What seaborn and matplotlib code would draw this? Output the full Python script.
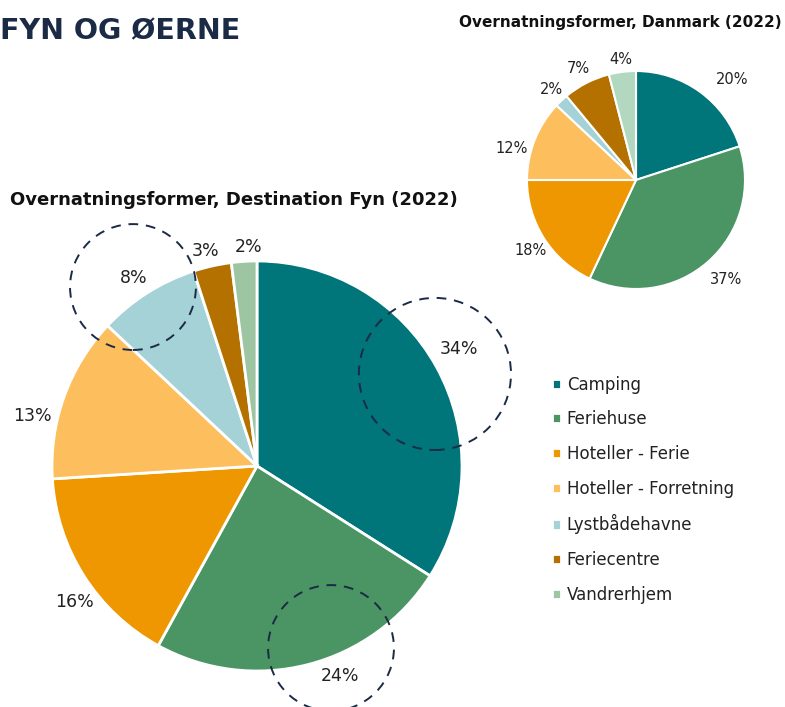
import matplotlib
matplotlib.use("Agg")
import matplotlib.pyplot as plt
from matplotlib.patches import Circle
import numpy as np
import seaborn as sns

sns.set_theme(style="white")
plt.rcParams['font.family'] = ['DejaVu Sans']

categories = ["Camping", "Feriehuse", "Hoteller - Ferie", "Hoteller - Forretning",
              "Lystbådehavne", "Feriecentre", "Vandrerhjem"]
fyn_values = [34, 24, 16, 13, 8, 3, 2]
dk_values = [20, 37, 18, 12, 2, 7, 4]
colors = sns.color_palette(["#00757a", "#4a9563", "#ef9700", "#fdbf5e",
                            "#a5d2d7", "#b47100", "#9ec5a2"])
dk_colors = sns.color_palette(["#00757a", "#4a9563", "#ef9700", "#fdbf5e",
                               "#a5d2d7", "#b47100", "#b2d9bf"])

# label placement (layout only): angular shift in degrees (clockwise) and radial distance
fyn_label_shift = [-1.2, -7.3, -4.2, -7.2, -0.9, -0.9, 1.3]
fyn_label_dist = [1.14, 1.10, 1.11, 1.12, 1.10, 1.08, 1.07]
dk_label_shift = [7.8, -0.9, -1.3, -7.2, 0.2, -0.6, 0.1]
dk_label_dist = [1.28, 1.23, 1.16, 1.18, 1.14, 1.15, 1.11]

W, H = 785, 707
fig = plt.figure(figsize=(W / 100, H / 100), dpi=100)
fig.patch.set_facecolor("white")
navy = "#1b2a45"
txt = "#222222"


def pct(v):
    return f"{v}%"


def place_labels(ax, wedges, values, shifts, dists, fs):
    for w, v, s, d in zip(wedges, values, shifts, dists):
        ang = np.deg2rad((w.theta1 + w.theta2) / 2 - s)
        ax.text(d * np.cos(ang), d * np.sin(ang), pct(v), ha="center", va="center",
                fontsize=fs, color=txt, zorder=6)


# Big pie
cx, cy, r = 257, 466, 205
ax = fig.add_axes([(cx - r) / W, (H - cy - r) / H, 2 * r / W, 2 * r / H])
wedges, _ = ax.pie(fyn_values, colors=colors, startangle=90, counterclock=False,
                   radius=1, wedgeprops=dict(edgecolor="white", linewidth=2))
place_labels(ax, wedges, fyn_values, fyn_label_shift, fyn_label_dist, 12.5)
ax.set_xlim(-1, 1)
ax.set_ylim(-1, 1)
ax.set_aspect("equal")
ax.axis("off")
for (x0, y0, rr) in [(-0.605, 0.873, 0.307), (0.868, 0.449, 0.371), (0.361, -0.888, 0.307)]:
    c = Circle((x0, y0), rr, fill=False, edgecolor=navy, linewidth=1.4,
               linestyle=(0, (5, 4)), clip_on=False, zorder=5)
    ax.add_patch(c)

# Small pie
cx2, cy2, r2 = 636, 180, 109
ax2 = fig.add_axes([(cx2 - r2) / W, (H - cy2 - r2) / H, 2 * r2 / W, 2 * r2 / H])
w2, _ = ax2.pie(dk_values, colors=dk_colors, startangle=90, counterclock=False,
                radius=1, wedgeprops=dict(edgecolor="white", linewidth=1.5))
place_labels(ax2, w2, dk_values, dk_label_shift, dk_label_dist, 10.5)
ax2.set_xlim(-1, 1)
ax2.set_ylim(-1, 1)
ax2.set_aspect("equal")
ax2.axis("off")

# Titles
fig.text(0 / W, 1 - 31 / H, "FYN OG ØERNE", fontsize=20.5, fontweight="bold",
         color=navy, ha="left", va="center")
fig.text(10 / W, 1 - 200 / H, "Overnatningsformer, Destination Fyn (2022)",
         fontsize=13, fontweight="bold", color="#111111", ha="left", va="center")
fig.text(782 / W, 1 - 22 / H, "Overnatningsformer, Danmark (2022)",
         fontsize=11, fontweight="bold", color="#111111", ha="right", va="center")

# Legend
leg = fig.legend(wedges, categories, loc="upper left",
                 bbox_to_anchor=(545 / W, 1 - 369 / H), frameon=False,
                 fontsize=12, handlelength=0.55, handleheight=0.55,
                 handletextpad=0.35, labelspacing=1.0, borderaxespad=0)
for t in leg.get_texts():
    t.set_color(txt)

fig.savefig("out.png", dpi=100, facecolor="white")
